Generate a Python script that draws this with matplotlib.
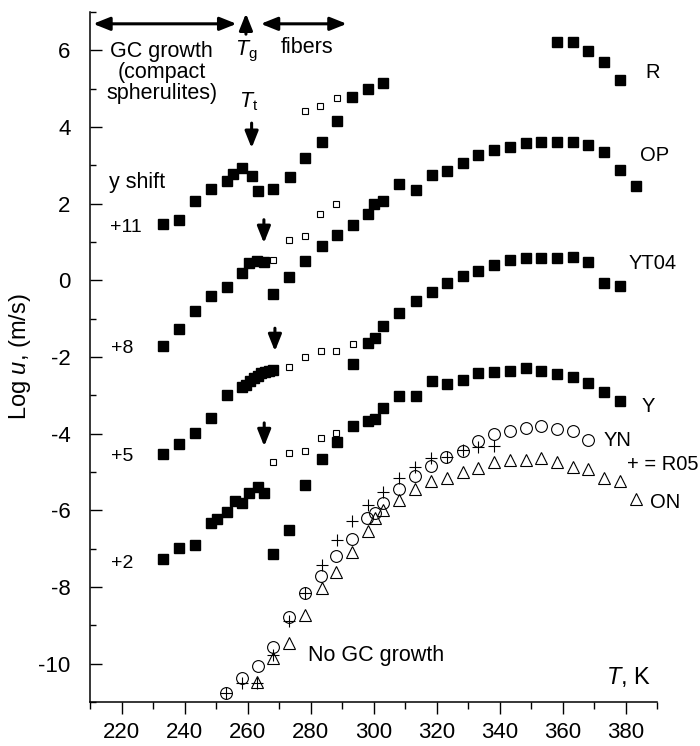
import matplotlib
matplotlib.use("Agg")
import matplotlib.pyplot as plt
from matplotlib.ticker import MultipleLocator

plt.rcParams['font.family'] = ['Liberation Sans', 'DejaVu Sans']
plt.rcParams['mathtext.fontset'] = 'custom'
plt.rcParams['mathtext.rm'] = 'Liberation Sans'
plt.rcParams['mathtext.it'] = 'Liberation Sans:italic'
plt.rcParams['axes.unicode_minus'] = False

# growth rates, log u (m/s), already shifted by the "y shift" offsets
# R (+11)
r_T = [233.3, 238.4, 243.3, 248.5, 253.4, 255.5, 258.2, 261.5, 263.4, 268.2, 273.5,
       278.3, 283.6, 288.3, 293.3, 298.4, 303.1, 358.1, 363.4, 368.2, 373.3, 378.3]
r_logu = [1.47, 1.56, 2.07, 2.39, 2.58, 2.76, 2.93, 2.71, 2.32, 2.37, 2.70,
          3.19, 3.61, 4.15, 4.77, 5.00, 5.15, 6.22, 6.22, 5.98, 5.69, 5.22]
r_fib_T = [278.3, 283.0, 288.3]
r_fib_logu = [4.41, 4.54, 4.76]

# OP (+8)
op_T = [233.1, 238.4, 243.3, 248.3, 253.4, 258.2, 260.6, 262.9, 265.3, 268.2,
        273.3, 278.3, 283.6, 288.3, 293.6, 298.4, 300.3, 303.1, 308.2, 313.5,
        318.5, 323.2, 328.3, 333.3, 338.3, 343.3, 348.3, 353.2, 358.1, 363.2,
        368.2, 373.3, 378.3, 383.3]
op_logu = [-1.72, -1.27, -0.81, -0.42, -0.18, 0.19, 0.45, 0.51, 0.48, -0.37,
           0.08, 0.50, 0.89, 1.17, 1.44, 1.73, 1.98, 2.08, 2.50, 2.35,
           2.74, 2.85, 3.06, 3.28, 3.39, 3.48, 3.58, 3.61, 3.61, 3.61,
           3.54, 3.35, 2.87, 2.45]
op_fib_T = [268.2, 273.3, 278.3, 283.0, 288.1]
op_fib_logu = [0.52, 1.06, 1.15, 1.73, 2.00]

# YT04 (+5)
yt_T = [233.1, 238.4, 243.3, 248.3, 253.4, 258.2, 259.5, 260.8, 262.0, 263.2,
        264.4, 265.6, 266.8, 268.0, 293.4, 298.4, 300.5, 303.1, 308.2, 313.5,
        318.5, 323.2, 328.3, 333.3, 338.3, 343.3, 348.3, 353.2, 358.1, 363.2,
        368.2, 373.3, 378.3]
yt_logu = [-4.53, -4.27, -3.99, -3.59, -3.00, -2.79, -2.72, -2.64, -2.56, -2.49,
           -2.43, -2.39, -2.36, -2.34, -2.19, -1.64, -1.51, -1.20, -0.85, -0.55,
           -0.31, -0.07, 0.12, 0.23, 0.39, 0.54, 0.58, 0.58, 0.58, 0.61,
           0.48, -0.07, -0.14]
yt_fib_T = [273.3, 278.3, 283.2, 288.1, 293.4]
yt_fib_logu = [-2.25, -2.00, -1.85, -1.85, -1.66]

# Y (+2)
y_T = [233.1, 238.4, 243.3, 248.3, 250.2, 253.4, 256.0, 258.2, 260.6, 263.2,
       265.2, 268.2, 273.3, 278.3, 283.6, 288.3, 293.4, 298.4, 300.5, 303.1,
       308.2, 313.5, 318.5, 323.2, 328.3, 333.3, 338.3, 343.3, 348.3, 353.2,
       358.1, 363.2, 368.2, 373.3, 378.3]
y_logu = [-7.27, -6.99, -6.90, -6.34, -6.23, -6.05, -5.75, -5.81, -5.55, -5.38,
          -5.55, -7.15, -6.51, -5.33, -4.66, -4.22, -3.81, -3.68, -3.62, -3.33,
          -3.01, -3.01, -2.64, -2.71, -2.59, -2.42, -2.40, -2.36, -2.29, -2.36,
          -2.44, -2.51, -2.68, -2.92, -3.16]
y_fib_T = [268.0, 273.3, 278.3, 283.2, 288.1]
y_fib_logu = [-4.74, -4.51, -4.44, -4.12, -3.99]

# no GC growth: YN, ON, R05 (unshifted)
yn_T = [253.2, 258.2, 263.2, 268.2, 273.3, 278.3, 283.3, 288.1, 293.1, 298.0,
        300.5, 303.1, 308.1, 313.2, 318.1, 323.1, 328.3, 333.3, 338.3, 343.3,
        348.3, 353.2, 358.1, 363.2, 368.2]
yn_logu = [-10.77, -10.38, -10.06, -9.56, -8.79, -8.16, -7.71, -7.18, -6.74, -6.21,
           -6.06, -5.81, -5.44, -5.10, -4.84, -4.60, -4.45, -4.20, -4.01, -3.93,
           -3.86, -3.81, -3.87, -3.93, -4.16]
on_T = [263.1, 268.2, 273.3, 278.3, 283.6, 288.1, 293.3, 298.1, 300.5, 303.1,
        308.1, 313.2, 318.3, 323.2, 328.3, 333.3, 338.3, 343.3, 348.3, 353.2,
        358.1, 363.2, 368.2, 373.3, 378.3, 383.3]
on_logu = [-10.47, -9.84, -9.47, -8.73, -8.03, -7.60, -7.08, -6.53, -6.21, -5.99,
           -5.73, -5.44, -5.24, -5.17, -4.99, -4.90, -4.73, -4.68, -4.68, -4.64,
           -4.73, -4.86, -4.93, -5.16, -5.23, -5.70]
r05_T = [253.2, 258.2, 263.1, 268.2, 273.3, 278.3, 283.6, 288.3, 293.3, 298.1,
         303.1, 308.1, 313.2, 318.1, 323.2, 328.3, 333.3, 338.3]
r05_logu = [-10.77, -10.51, -10.51, -9.77, -8.90, -8.16, -7.42, -6.77, -6.27, -5.86,
            -5.51, -5.16, -4.86, -4.64, -4.60, -4.42, -4.36, -4.31]

fig, ax = plt.subplots(figsize=(7, 7.46), dpi=100)
fig.subplots_adjust(left=0.1286, right=0.9386, bottom=0.059, top=0.984)

solid = dict(ls='none', marker='s', ms=6.5, color='k')
hollow = dict(ls='none', marker='s', ms=5, mfc='white', mec='k', mew=0.8)
for T, lu in [(r_T, r_logu), (op_T, op_logu), (yt_T, yt_logu), (y_T, y_logu)]:
    ax.plot(T, lu, **solid)
for T, lu in [(r_fib_T, r_fib_logu), (op_fib_T, op_fib_logu),
              (yt_fib_T, yt_fib_logu), (y_fib_T, y_fib_logu)]:
    ax.plot(T, lu, **hollow)

ax.plot(on_T, on_logu, ls='none', marker='^', ms=8.5, mfc='none', mec='k', mew=0.8)
ax.plot(yn_T, yn_logu, ls='none', marker='o', ms=8.5, mfc='none', mec='k', mew=0.8)
ax.plot(r05_T, r05_logu, ls='none', marker='+', ms=9, mec='k', mew=0.8)

# axes
ax.set_xlim(210, 390)
ax.set_ylim(-11, 7)
ax.spines['top'].set_visible(False)
ax.spines['right'].set_visible(False)
for s in ('left', 'bottom'):
    ax.spines[s].set_linewidth(1.1)
ax.xaxis.set_major_locator(MultipleLocator(20))
ax.xaxis.set_minor_locator(MultipleLocator(10))
ax.yaxis.set_major_locator(MultipleLocator(2))
ax.yaxis.set_minor_locator(MultipleLocator(1))
ax.tick_params(axis='x', which='major', direction='out', length=8.5, width=1, pad=6, labelsize=16)
ax.tick_params(axis='x', which='minor', direction='out', length=4.8, width=1)
ax.tick_params(axis='y', which='major', direction='in', length=8.5, width=1, pad=14, labelsize=16)
ax.tick_params(axis='y', which='minor', direction='in', length=4.2, width=1)
ax.set_ylabel(r'Log $u$, (m/s)', fontsize=17)
ax.text(388, -10.35, r'$T$, K', fontsize=17, ha='right', va='center')

# arrows
def arrow(x0, y0, x1, y1, style='-|>'):
    ax.annotate('', xy=(x1, y1), xytext=(x0, y0), annotation_clip=False,
                arrowprops=dict(arrowstyle=style + ',head_length=0.5,head_width=0.2',
                                lw=2.2, color='k', mutation_scale=20,
                                shrinkA=0, shrinkB=0))

arrow(211, 6.69, 256.5, 6.69, '<|-|>')
arrow(264.2, 6.69, 291.5, 6.69, '<|-|>')
arrow(259.5, 6.42, 259.5, 6.96)
arrow(261.3, 4.1, 261.3, 3.45)
arrow(265.2, 1.58, 265.2, 0.97)
arrow(268.7, -1.25, 268.7, -1.85)
arrow(265.3, -3.72, 265.3, -4.33)

fs = 15.5
ax.text(232.7, 5.43, 'GC growth\n(compact\nspherulites)', fontsize=fs,
        ha='center', va='center', linespacing=1.0)
ax.text(259.7, 5.98, r'$T_{\rm g}$', fontsize=fs, ha='center', va='center')
ax.text(278.8, 6.07, 'fibers', fontsize=fs, ha='center', va='center')
ax.text(260.2, 4.67, r'$T_{\rm t}$', fontsize=fs, ha='center', va='center')
ax.text(224.8, 2.54, 'y shift', fontsize=fs, ha='center', va='center')
ax.text(279.3, -9.79, 'No GC growth', fontsize=fs, ha='left', va='center')

for txt, x, y in [('+11', 216.3, 1.38), ('+8', 216.7, -1.77),
                  ('+5', 216.7, -4.6), ('+2', 216.7, -7.4)]:
    ax.text(x, y, txt, fontsize=14, ha='left', va='center')

for txt, x, y in [('R', 386.2, 5.41), ('OP', 384.6, 3.26), ('YT04', 380.9, 0.45),
                  ('Y', 385.1, -3.29), ('YN', 372.9, -4.19),
                  ('+ = R05', 380.4, -4.8), ('ON', 387.8, -5.79)]:
    ax.text(x, y, txt, fontsize=14.5, ha='left', va='center')

fig.savefig('out.png', dpi=100)
